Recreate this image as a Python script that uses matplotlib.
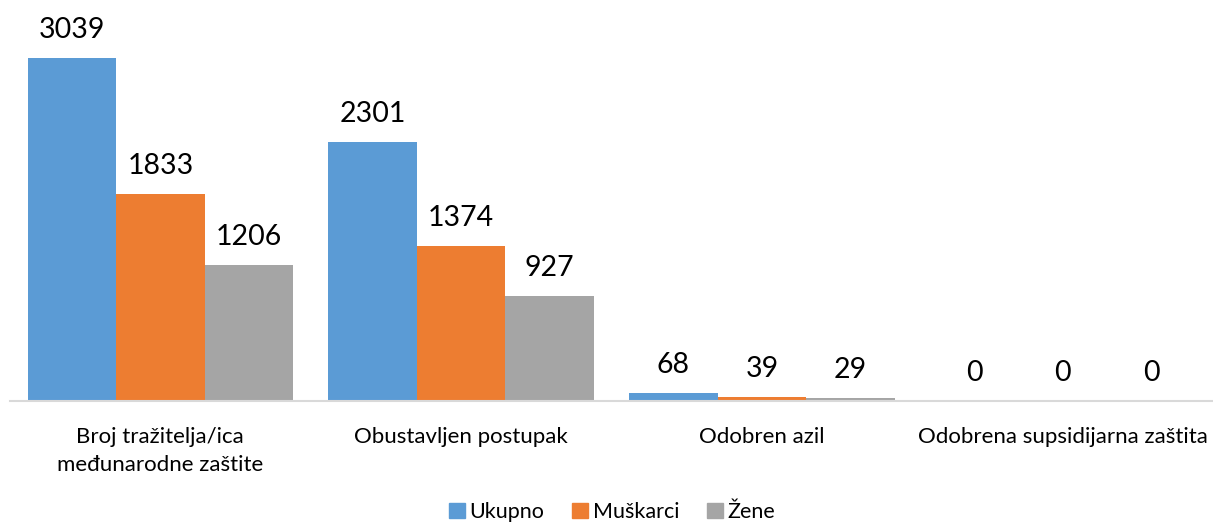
import matplotlib.pyplot as plt
import numpy as np
from matplotlib.patches import Patch

plt.rcParams["font.family"] = ["Lato", "DejaVu Sans"]

categories = [
    "Broj tražitelja/ica\nmeđunarodne zaštite",
    "Obustavljen postupak",
    "Odobren azil",
    "Odobrena supsidijarna zaštita",
]
series_names = ["Ukupno", "Muškarci", "Žene"]
ukupno = [3039, 2301, 68, 0]
muskarci = [1833, 1374, 39, 0]
zene = [1206, 927, 29, 0]
colors = ["#5B9BD5", "#ED7D31", "#A5A5A5"]

W, H = 1213, 525
fig = plt.figure(figsize=(W / 100, H / 100), dpi=100)
ax = fig.add_axes([10 / W, 124 / H, 1 - 10 / W, 394.7 / H])

x = np.arange(len(categories))
bw = 0.294
for i, (vals, name, c) in enumerate(zip([ukupno, muskarci, zene], series_names, colors)):
    pos = x + (i - 1) * bw
    ax.bar(pos, vals, width=bw, color=c, label=name)
    for px, v in zip(pos, vals):
        ax.annotate(str(v), (px, v), xytext=(0, 14.4), textcoords="offset points",
                    ha="center", va="baseline", fontsize=20.5, color="#000000")

ax.set_xlim(-0.5, len(categories) - 0.5)
ax.set_ylim(0, 3500)
ax.set_yticks([])
ax.set_xticks(x)
ax.set_xticklabels(categories, fontsize=16, color="#000000", linespacing=1.45)
ax.tick_params(axis="x", length=0, pad=19)
for s in ["top", "right", "left"]:
    ax.spines[s].set_visible(False)
ax.spines["bottom"].set_color("#D9D9D9")
ax.spines["bottom"].set_linewidth(1.5)

handles = [Patch(color=c) for c in colors]
fig.legend(handles, series_names, loc="center", bbox_to_anchor=(612 / W, 1 - 512 / H),
           ncol=3, frameon=False, fontsize=15.5, handlelength=0.75, handleheight=0.75,
           handletextpad=0.2, columnspacing=1.3, borderpad=0.1)

fig.savefig("out.png", dpi=100, facecolor="white")
